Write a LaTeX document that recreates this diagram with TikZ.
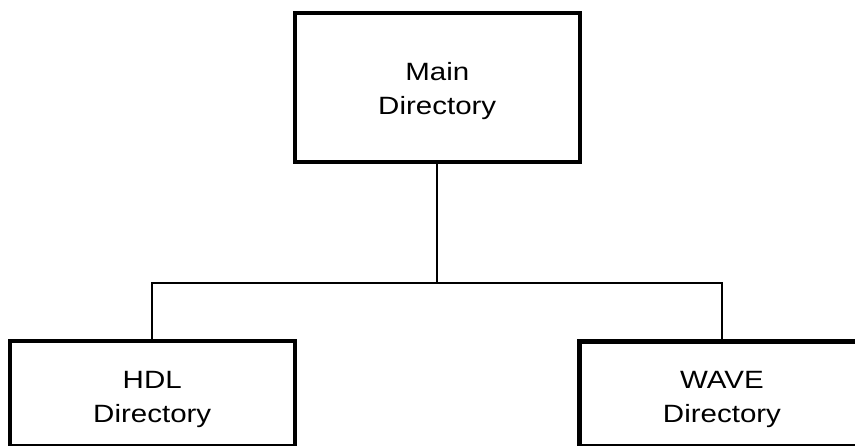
\documentclass[tikz,border=0pt]{standalone}
\usepackage{fontspec}
\setmainfont{Liberation Sans}[FakeStretch=1.18]
\begin{document}
\begin{tikzpicture}[x=1pt,y=-1pt,
  dirbox/.style={draw=black, line width=4.5pt, fill=none, inner sep=0pt, minimum width=285pt},
  lbl/.style={align=center, inner sep=0pt, font=\fontsize{25}{34}\selectfont},
  conn/.style={draw=black, line width=1.8pt}]
\clip (0,0) rectangle (855,446);
\fill[white] (0,0) rectangle (855,446);
\node[dirbox, minimum height=149pt] (main) at (437.25,87.5) {};
\node[lbl] (mainlbl) at (437.25,91.5) {Main\\Directory};
\node[dirbox, minimum height=105pt] (hdl) at (152.25,393.5) {};
\node[lbl] (hdllbl) at (152.25,399) {HDL\\Directory};
\node[dirbox, minimum height=104.5pt] (wave) at (722,394) {};
\node[lbl] (wavelbl) at (722,399.5) {WAVE\\Directory};
\coordinate (bus) at (437.25,283);
\draw[conn] (main.south) -- (bus);
\draw[conn] (hdl.north) -- (hdl.north |- bus) -- (wave.north |- bus) -- (wave.north);
\end{tikzpicture}
\end{document}
